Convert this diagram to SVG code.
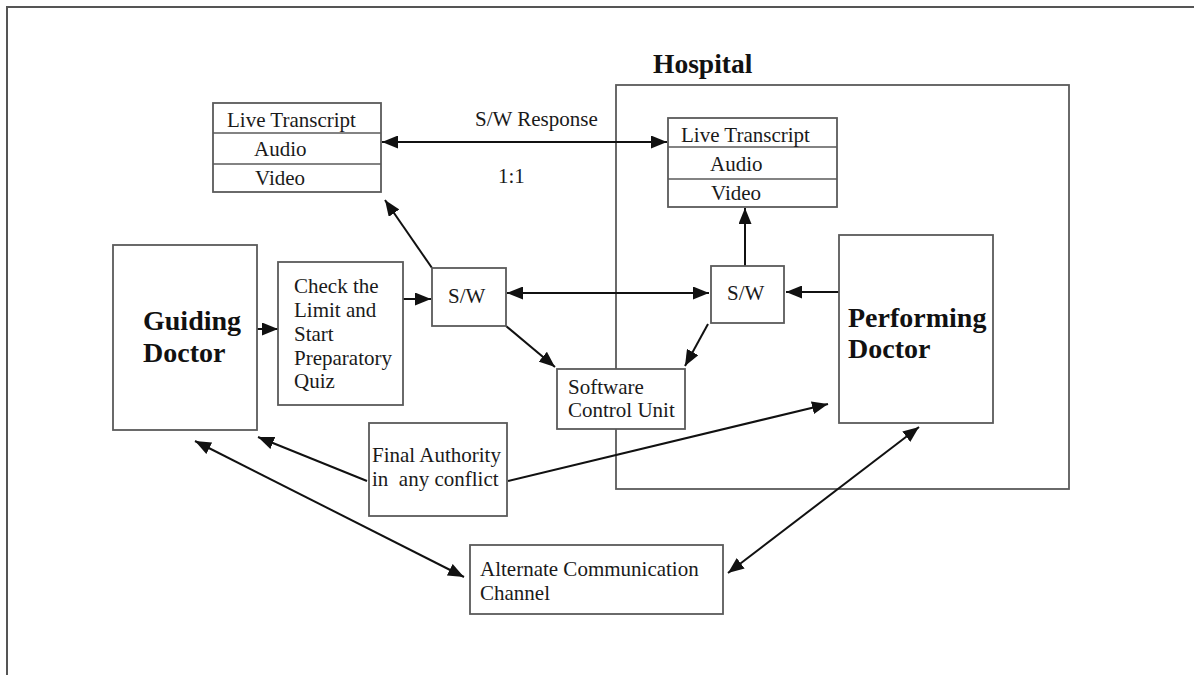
<svg xmlns="http://www.w3.org/2000/svg" width="1194" height="675" viewBox="0 0 1194 675">
<style>
.box{fill:#fff;stroke:#5a5a5a;stroke-width:1.8}
.div{stroke:#5a5a5a;stroke-width:1.5}
.t{font-family:"Liberation Serif","Times New Roman",serif;font-size:21px;fill:#1a1a1a;white-space:pre}
.b{font-family:"Liberation Serif","Times New Roman",serif;font-size:28px;font-weight:bold;fill:#111}
.c{stroke:#111;stroke-width:2;fill:none}
.one{marker-end:url(#ah)}
.two{marker-start:url(#ah);marker-end:url(#ah)}
</style>
<defs>
<marker id="ah" markerUnits="userSpaceOnUse" markerWidth="16" markerHeight="13" refX="16" refY="6.5" orient="auto-start-reverse" viewBox="0 0 16 13">
<path d="M0,0 L16,6.5 L0,13 z" fill="#111"/>
</marker>
</defs>
<rect width="1194" height="675" fill="#fff"/>
<path d="M7,675 V7 H1194" fill="none" stroke="#555" stroke-width="2"/>

<g id="hospital">
<rect class="box" x="616" y="85" width="453" height="404" fill="none"/>
<text class="b" x="653" y="73" style="font-size:27.5px">Hospital</text>
</g>

<g id="connectors">
<line class="c two" x1="382" y1="142" x2="667" y2="142"/>
<line class="c one" x1="432" y1="268" x2="385" y2="200"/>
<line class="c one" x1="257" y1="329" x2="278" y2="329"/>
<line class="c one" x1="403" y1="299" x2="431" y2="299"/>
<line class="c two" x1="507" y1="293" x2="709" y2="293"/>
<line class="c one" x1="506" y1="326" x2="555" y2="367"/>
<line class="c one" x1="745" y1="266" x2="745" y2="208"/>
<line class="c one" x1="839" y1="292" x2="786" y2="292"/>
<line class="c one" x1="708" y1="324" x2="685" y2="366"/>
<line class="c one" x1="367" y1="481" x2="258" y2="437"/>
<line class="c one" x1="508" y1="481" x2="828" y2="404"/>
<line class="c two" x1="195" y1="441" x2="464" y2="577"/>
<line class="c two" x1="728" y1="573" x2="919" y2="427"/>
</g>

<g id="sw-response">
<text class="t" x="475" y="126">S/W Response</text>
<text class="t" x="498" y="183">1:1</text>
</g>

<g id="lt-left">
<rect class="box" x="213" y="103" width="168" height="89"/>
<line class="div" x1="213" y1="133" x2="381" y2="133"/>
<line class="div" x1="213" y1="164" x2="381" y2="164"/>
<text class="t" x="227" y="127">Live Transcript</text>
<text class="t" x="254" y="156">Audio</text>
<text class="t" x="255" y="185">Video</text>
</g>

<g id="lt-right">
<rect class="box" x="668" y="118" width="169" height="89"/>
<line class="div" x1="668" y1="147" x2="837" y2="147"/>
<line class="div" x1="668" y1="179" x2="837" y2="179"/>
<text class="t" x="681" y="142">Live Transcript</text>
<text class="t" x="710" y="171">Audio</text>
<text class="t" x="711" y="200">Video</text>
</g>

<g id="guiding-doctor">
<rect class="box" x="113" y="245" width="144" height="185"/>
<text class="b" x="143" y="330">Guiding</text>
<text class="b" x="143" y="362">Doctor</text>
</g>

<g id="check-limit">
<rect class="box" x="278" y="262" width="125" height="143"/>
<text class="t" x="294" y="293">Check the</text>
<text class="t" x="294" y="317">Limit and</text>
<text class="t" x="294" y="341">Start</text>
<text class="t" x="294" y="365">Preparatory</text>
<text class="t" x="294" y="388">Quiz</text>
</g>

<g id="sw-left">
<rect class="box" x="432" y="268" width="74" height="58"/>
<text class="t" x="448" y="303">S/W</text>
</g>

<g id="sw-right">
<rect class="box" x="711" y="266" width="73" height="57"/>
<text class="t" x="727" y="300">S/W</text>
</g>

<g id="performing-doctor">
<rect class="box" x="839" y="235" width="154" height="188"/>
<text class="b" x="848" y="327">Performing</text>
<text class="b" x="848" y="358">Doctor</text>
</g>

<g id="software-control-unit">
<rect class="box" x="557" y="369" width="128" height="60"/>
<text class="t" x="568" y="394">Software</text>
<text class="t" x="568" y="417">Control Unit</text>
</g>

<g id="final-authority">
<rect class="box" x="369" y="423" width="138" height="93"/>
<text class="t" x="372" y="462">Final Authority</text>
<text class="t" x="372" y="486">in  any conflict</text>
</g>

<g id="alternate-channel">
<rect class="box" x="470" y="545" width="253" height="69"/>
<text class="t" x="480" y="576">Alternate Communication</text>
<text class="t" x="480" y="600">Channel</text>
</g>
</svg>
